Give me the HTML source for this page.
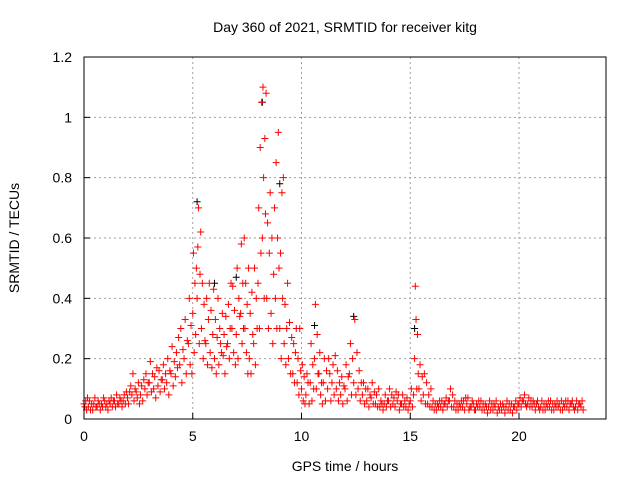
<!DOCTYPE html>
<html><head><meta charset="utf-8"><style>
body{margin:0;background:#fff;}
svg{display:block;font-family:"Liberation Sans",sans-serif;}
</style></head><body>
<svg id="chart" width="640" height="480" xmlns="http://www.w3.org/2000/svg">
<text x="345" y="32" font-size="14" text-anchor="middle">Day 360 of 2021, SRMTID for receiver kitg</text>
<text x="345" y="471" font-size="14" text-anchor="middle">GPS time / hours</text>
<text transform="translate(19,238) rotate(-90)" font-size="14" text-anchor="middle">SRMTID / TECUs</text>
<g id="grid"></g><g id="ticks"></g><g id="pts"></g>
<rect x="84" y="57" width="522" height="362" fill="none" stroke="#000" stroke-width="1"/>
</svg>
<script>
const xTicks=[0,5,10,15,20];
const yTicks=[0,0.2,0.4,0.6,0.8,1,1.2];
const yTickLabels=["0","0.2","0.4","0.6","0.8","1","1.2"];
const times=[0,0.2,0.4,0.6,0.8,1,1.2,1.4,1.6,1.8,2,2.2,2.4,2.6,2.8,3,3.2,3.4,3.6,3.8,4,4.2,4.4,4.6,4.8,5,5.2,5.4,5.6,5.8,6,6.2,6.4,6.6,6.8,7,7.2,7.4,7.6,7.8,8,8.2,8.4,8.6,8.8,9,9.2,9.4,9.6,9.8,10,10.2,10.4,10.6,10.8,11,11.2,11.4,11.6,11.8,12,12.2,12.4,12.6,12.8,13,13.2,13.4,13.6,13.8,14,14.2,14.4,14.6,14.8,15,15.2,15.4,15.6,15.8,16,16.2,16.4,16.6,16.8,17,17.2,17.4,17.6,17.8,18,18.2,18.4,18.6,18.8,19,19.2,19.4,19.6,19.8,20,20.2,20.4,20.6,20.8,21,21.2,21.4,21.6,21.8,22,22.2,22.4,22.6,22.8];
const values=[
[.05,.04,.06,.03,.07],[.04,.06,.03,.05],[.03,.05,.07,.04],[.04,.06,.05,.03],[.05,.04,.07,.06],[.04,.05,.03,.06],[.05,.07,.04,.06],[.06,.04,.08,.05],[.05,.07,.06,.04],[.06,.08,.05,.09],
[.07,.05,.09,.11],[.08,.15,.06,.1],[.09,.07,.12,.05],[.08,.11,.06,.13],[.1,.15,.08,.12],[.12,.19,.09,.15],[.1,.14,.07,.17],[.11,.16,.09,.13],[.13,.18,.1,.15],[.12,.2,.08,.16],
[.15,.24,.11,.19],[.14,.22,.17,.27],[.18,.3,.12,.23],[.2,.33,.15,.26],[.25,.4,.18,.31,.15],[.35,.55,.22,.45,.28,.5],[.4,.57,.7,.25,.48,.62],[.3,.45,.2,.38,.26],[.25,.4,.18,.33,.45],[.22,.36,.17,.28,.43],
[.2,.33,.15,.27,.4],[.18,.3,.25,.22,.35],[.21,.28,.15,.34,.24],[.25,.38,.2,.3,.45],[.3,.44,.22,.36,.18],[.28,.5,.2,.4,.34],[.35,.58,.25,.45,.3,.6],[.3,.45,.22,.38,.15,.5],[.2,.35,.15,.42,.28],[.25,.5,.18,.4,.3],
[.45,.7,.3,.9,.55,1.05],[.6,1.1,.8,.4,.93,.68,1.08],[.4,.65,.3,.55,.75],[.35,.6,.25,.48,.7],[.4,.85,.3,.6,.95,.5],[.3,.55,.2,.75,.4,.8],[.25,.38,.18,.3,.45],[.2,.32,.15,.27],[.15,.25,.12,.22,.3],[.12,.2,.08,.3,.16],
[.1,.18,.06,.14,.05],[.08,.15,.12,.05],[.12,.25,.06,.18,.1],[.2,.38,.1,.28,.15],[.15,.22,.08,.12,.05],[.12,.2,.06,.16],[.1,.2,.15,.06],[.12,.18,.08,.21],[.1,.16,.06,.12],[.08,.14,.05,.11],
[.1,.18,.06,.14],[.15,.25,.08,.2],[.12,.33,.08,.22],[.1,.16,.06,.12],[.08,.12,.05,.1],[.06,.1,.04,.08],[.07,.12,.05,.09],[.05,.08,.04,.1],[.04,.06,.05,.03],[.05,.08,.04,.06],
[.06,.1,.04,.08],[.05,.07,.04,.09],[.06,.08,.03,.05],[.05,.08,.04,.06],[.04,.07,.03,.05],[.06,.1,.04,.08],[.2,.44,.33,.1,.28,.15],[.1,.18,.06,.14],[.08,.15,.05,.12],[.05,.08,.04,.1],
[.04,.06,.03,.05],[.03,.05,.04,.06],[.04,.06,.03,.05],[.05,.07,.04,.06],[.06,.1,.04,.08],[.04,.06,.03,.05],[.03,.05,.04,.06],[.04,.06,.03,.07],[.05,.07,.03,.04],[.04,.06,.05,.03],
[.03,.05,.04,.06],[.04,.06,.03,.05],[.03,.05,.04,.02],[.04,.06,.03,.05],[.03,.05,.04,.06],[.02,.04,.03,.05],[.03,.05,.04,.02],[.04,.06,.03,.05],[.03,.05,.02,.04],[.04,.06,.03,.05],
[.05,.07,.04,.06],[.06,.08,.05,.04],[.05,.07,.04,.06],[.04,.06,.05,.03],[.05,.06,.04,.03],[.04,.06,.03,.05],[.03,.05,.04,.06],[.04,.06,.03,.05],[.03,.05,.04,.06],[.04,.05,.03,.06],
[.03,.05,.04,.06],[.04,.06,.03,.05],[.05,.06,.04,.03],[.04,.06,.03,.05],[.05,.04,.06,.03]];
const blackTimes=[5.2,6.0,7.0,8.2,9.0,12.4,15.2,10.6];
const blackValues=[.72,.45,.47,1.05,.78,.34,.3,.31];
const NS="http://www.w3.org/2000/svg";
const X0=84,X1=606,Y0=419,Y1=57,XMAX=24,YMAX=1.2;
function xs(t){return X0+(X1-X0)*t/XMAX;}
function ys(v){return Y0-(Y0-Y1)*v/YMAX;}
function el(tag,attrs,parent){const e=document.createElementNS(NS,tag);for(const k in attrs)e.setAttribute(k,attrs[k]);parent.appendChild(e);return e;}
const grid=document.getElementById('grid'),ticks=document.getElementById('ticks'),pts=document.getElementById('pts');
xTicks.forEach(t=>{const x=xs(t);
 if(t>0){const g=el('line',{x1:x,x2:x,y1:Y0,y2:Y1,stroke:'#a0a0a0','stroke-dasharray':'2,3'},grid);
 
 }
 el('line',{x1:x,x2:x,y1:Y0,y2:Y0-6,stroke:'#000'},ticks);
 const lb=el('text',{x:x,y:Y0+22,'font-size':14,'text-anchor':'middle'},ticks);lb.textContent=t;
 
 });
yTicks.forEach((v,i)=>{const y=ys(v);
 if(v>0&&v<YMAX){const g=el('line',{x1:X0,x2:X1,y1:y,y2:y,stroke:'#a0a0a0','stroke-dasharray':'2,3'},grid);
 
 }
 el('line',{x1:X0,x2:X0+6,y1:y,y2:y,stroke:'#000'},ticks);
 const lb=el('text',{x:X0-12,y:y+5,'font-size':14,'text-anchor':'end'},ticks);lb.textContent=yTickLabels[i];
 
 });
function plus(t,v,c){const x=xs(t),y=ys(v);
 const p=el('path',{d:`M${x-3.5},${y}h7M${x},${y-3.5}v7`,stroke:c,'stroke-width':1,fill:'none'},pts);
 
 }
blackTimes.forEach((t,i)=>plus(t,blackValues[i],'#000'));
times.forEach((t,i)=>{const vs=values[i];vs.forEach((v,j)=>plus(t+0.2*j/vs.length,v,'#ff0000'));});
</script>
</body></html>
